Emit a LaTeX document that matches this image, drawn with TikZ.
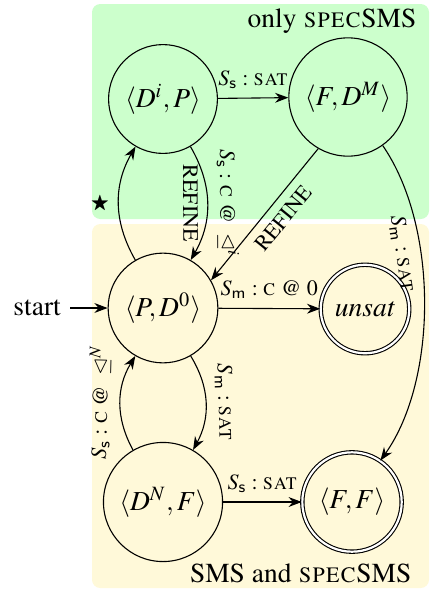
\documentclass[tikz,border=0pt]{standalone}
\usepackage[T1]{fontenc}
\usepackage{mathptmx}
\usepackage{amssymb}
\usetikzlibrary{positioning,arrows.meta}
\definecolor{specgreen}{RGB}{204,255,204}
\definecolor{smsyellow}{RGB}{255,249,217}
\newcommand{\Ss}{S_{\mathsf{s}}}
\newcommand{\Sm}{S_{\mathsf{m}}}
\begin{document}
\begin{tikzpicture}[x=0.364pt, y=-0.364pt, >={Stealth},
    state/.style={circle, draw, inner sep=3.8pt},
    final/.style={state, double, double distance=0.8pt},
    lbl/.style={font=\footnotesize}]
    \useasboundingbox (0,0) rectangle (433,591);
    \fill[specgreen, rounded corners=3pt] (92,4) rectangle (429,219);
    \fill[smsyellow, rounded corners=3pt] (92,224) rectangle (429,588);
    \node[anchor=base east] (only) at (426,27) {only \textsc{spec}SMS};
    \node[anchor=base east] (both) at (421,582) {SMS and \textsc{spec}SMS};
    \node[font=\scriptsize] (star) at (100,204) {$\bigstar$};
    \node[state] (Di) at (163,99) {$\langle D^i, P\rangle$};
    \node[state] (FM) at (348,97) {$\langle F, D^M\rangle$};
    \node[state] (P0) at (163,308) {$\langle P, D^0\rangle$};
    \node[final] (unsat) at (365,309) {\textit{unsat}};
    \node[state] (DN) at (163,502) {$\langle D^N, F\rangle$};
    \node[final] (FF) at (352,502) {$\langle F, F\rangle$};
    \node[left=13.5pt of P0] (start) {start};
    \draw[->] (start) -- (P0);
    \draw[->] (Di) -- node[above, lbl] {$\Ss : \mbox{\textsc{sat}}$} (FM);
    \draw[->] (Di) to[bend left=30] node[sloped, allow upside down, below, lbl] {REFINE}
        node[sloped, allow upside down, above, lbl] {$\Ss : \mbox{\textsc{c} @ }\trianglelefteq^{i}$} (P0);
    \draw[->] (P0) to[bend left=30] (Di);
    \draw[->] (FM.240) -- node[sloped, below, lbl, pos=0.45] {REFINE} (P0.30);
    \draw[->] (FM) to[bend left=35, looseness=0.8] node[pos=0.35, sloped, below, lbl] {$\Sm : \mbox{\textsc{sat}}$} (FF);
    \draw[->] (P0) -- node[above, lbl] {$\Sm : \mbox{\textsc{c} @ 0}$} (unsat);
    \draw[->] (P0) to[bend left=30] node[sloped, allow upside down, above, lbl] {$\Sm : \mbox{\textsc{sat}}$} (DN);
    \draw[->] (DN) to[bend left=30] node[sloped, allow upside down, above, lbl] {$\Ss : \mbox{\textsc{c} @ }\trianglelefteq^{N}$} (P0);
    \draw[->] (DN) -- node[above, lbl] {$\Ss : \mbox{\textsc{sat}}$} (FF);
\end{tikzpicture}
\end{document}
